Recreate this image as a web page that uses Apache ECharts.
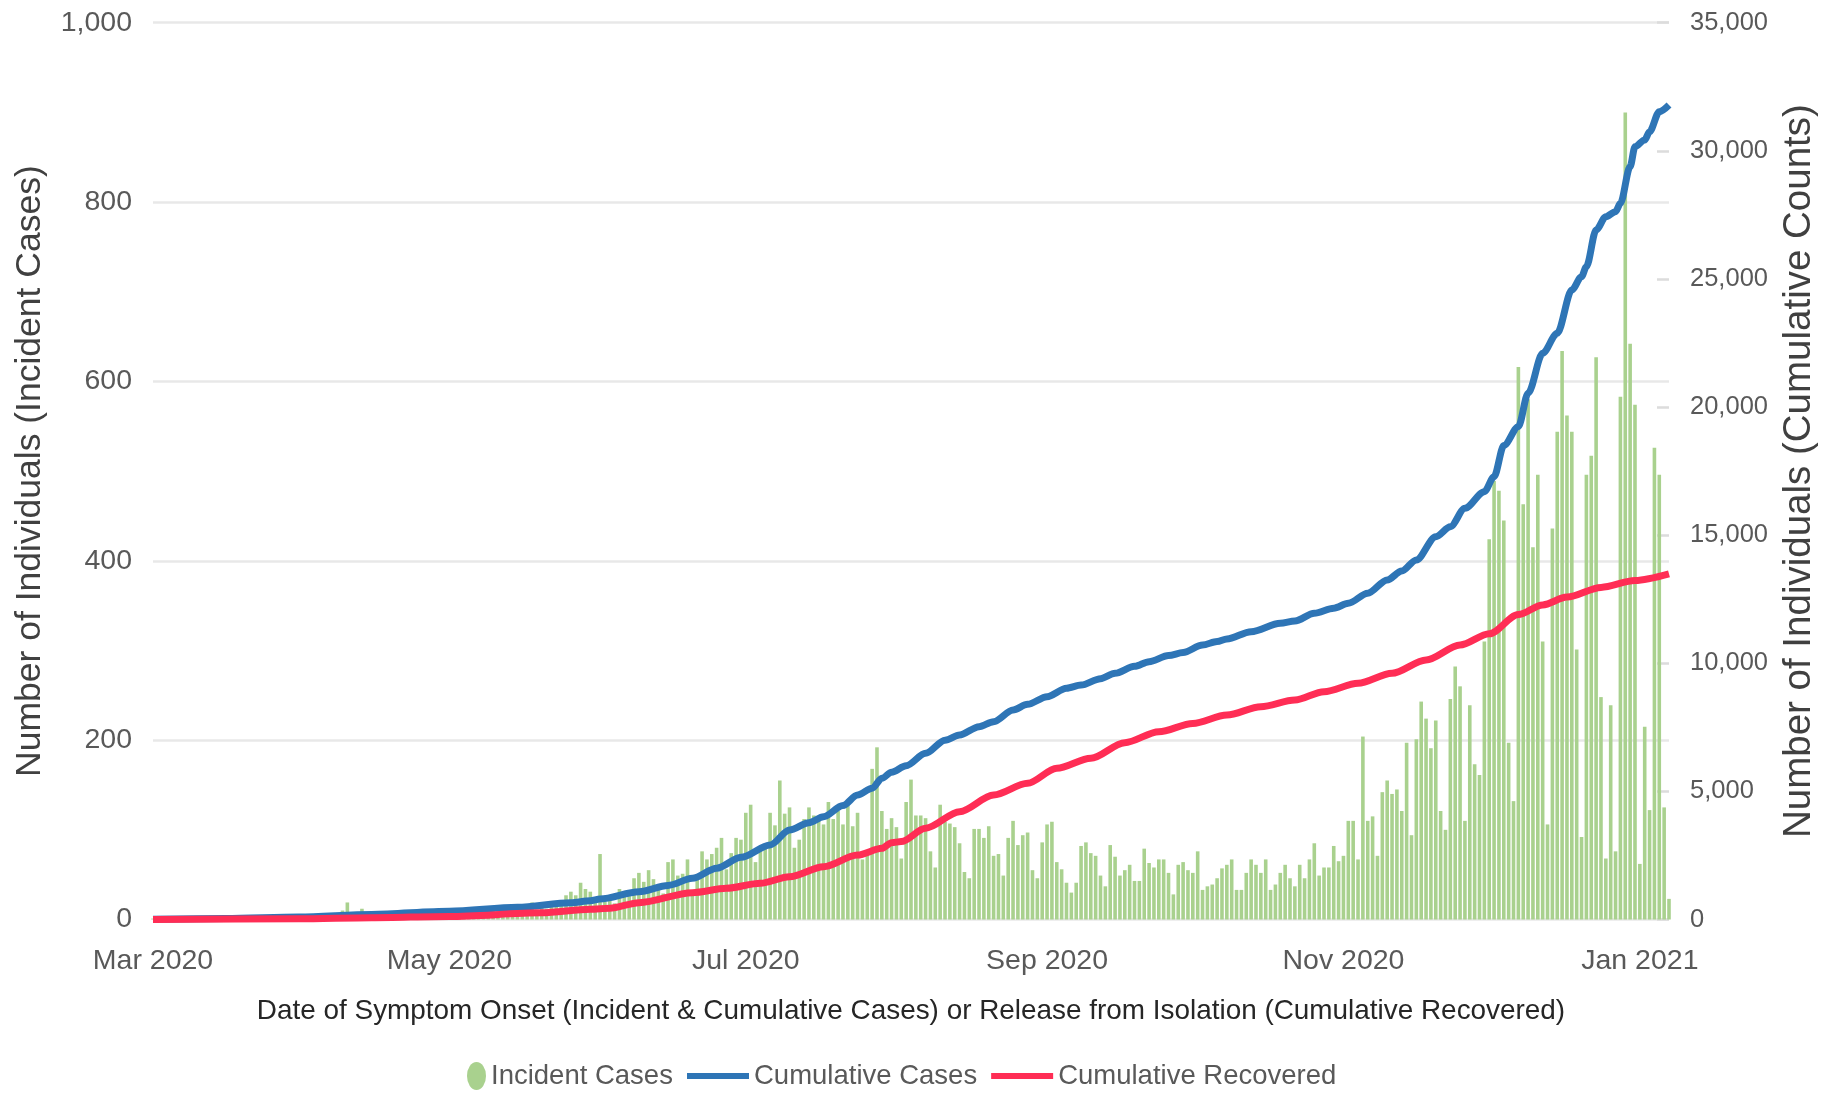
<!DOCTYPE html>
<html>
<head>
<meta charset="utf-8">
<script src="https://cdn.jsdelivr.net/npm/echarts@6/dist/echarts.min.js"></script>
<style>
html,body{margin:0;padding:0;background:#fff;}
#chart{width:1828px;height:1095px;}
</style>
</head>
<body>
<div id="chart"></div>
<script>
// ---- DATA ----
const startDate = '2020-03-01';
const dayCount = 313; // 2020-03-01 .. 2021-01-07

// Incident cases per day (from 2020-03-01)
const incidentCases = [
  1,0,1,1,2,1,2,1,2,2,
  2,3,2,3,4,5,3,3,5,4,
  3,4,3,2,4,3,5,4,3,4,
  4,3,5,4,3,4,5,6,5,10,
  19,8,6,12,5,6,4,7,5,6,
  8,5,7,6,5,8,6,7,9,6,
  8,7,9,6,10,8,9,11,7,10,
  12,9,11,10,13,9,12,14,19,11,
  13,12,15,14,17,27,31,27,41,34,
  31,25,73,20,22,18,34,25,26,46,
  52,42,55,45,35,29,64,67,49,51,
  67,31,44,76,67,73,80,91,56,74,
  91,89,119,128,64,82,83,119,105,155,
  118,125,80,89,112,125,116,110,106,131,
  112,121,106,127,104,119,67,74,168,192,
  121,101,113,103,68,131,156,116,116,113,
  76,58,128,109,107,103,85,53,46,101,
  101,91,104,71,73,49,91,110,83,94,
  97,55,46,86,106,109,64,56,41,30,
  41,82,86,74,71,49,37,83,70,49,
  55,61,43,43,79,63,58,67,67,52,
  28,61,64,55,52,76,33,37,39,46,
  57,61,67,33,33,52,67,61,52,67,
  33,39,52,61,46,37,61,46,67,85,
  49,58,58,82,65,71,110,110,67,204,
  110,115,71,142,155,140,145,121,197,94,
  201,243,224,191,222,121,100,246,282,260,
  110,239,173,161,310,424,489,478,445,197,
  132,616,463,580,415,496,310,106,436,544,
  634,562,544,301,92,496,517,627,248,68,
  239,76,583,900,642,574,62,215,122,526,
  496,125,23
];

// Cumulative cases: day index (from 2020-03-01) and value
const cumCasesDay = [0,15,30,45,61,75,86,90,92,100,106,111,116,121,127,131,135,138,142,145,148,150,152,155,159,163,166,170,173,177,180,184,188,191,195,198,202,205,209,212,216,219,221,226,232,235,239,243,246,250,254,257,260,264,267,270,274,276,278,281,283,286,289,292,294,295,297,299,301,302,304,305,307,308,310,312];
const cumCasesVal = [10,40,100,200,320,476,656,734,800,1085,1330,1607,2000,2427,2907,3493,3780,4012,4450,4859,5120,5510,5750,6000,6487,7000,7200,7525,7720,8177,8400,8696,9023,9152,9400,9609,9880,10062,10300,10420,10714,10850,10950,11233,11561,11650,11951,12150,12341,12732,13251,13600,14032,14942,15332,16049,16697,17283,18500,19234,20537,22099,22880,24570,25089,25480,26912,27431,27626,27954,29383,30163,30423,30748,31529,31790];

// Cumulative recovered: day index and value
const cumRecDay = [0,30,45,61,80,90,94,100,111,118,125,131,138,145,150,152,154,159,166,173,180,186,193,200,207,214,221,228,235,241,248,255,262,269,275,281,286,291,298,305,312];
const cumRecVal = [0,30,70,120,260,398,437,656,1046,1218,1413,1670,2061,2517,2779,3000,3040,3560,4208,4859,5316,5901,6292,6900,7330,7650,7982,8306,8567,8891,9220,9609,10128,10713,11150,11900,12279,12583,12962,13231,13489];

const leftTicks = [0,200,400,600,800,1000];
const rightTicks = [0,5000,10000,15000,20000,25000,30000,35000];
const monthNames = ['Jan','Feb','Mar','Apr','May','Jun','Jul','Aug','Sep','Oct','Nov','Dec'];
const labelMonths = ['01','03','05','07','09','11'];

// ---- BUILD ----
const categories = [];
{
  const d0 = new Date(startDate + 'T00:00:00Z');
  for (let i = 0; i < dayCount; i++) {
    const d = new Date(d0.getTime() + i * 86400000);
    categories.push(d.toISOString().slice(0, 10));
  }
}
const cumCasesData = cumCasesDay.map((d, i) => [categories[d], cumCasesVal[i]]);
const cumRecData = cumRecDay.map((d, i) => [categories[d], cumRecVal[i]]);

const FONT = "'Liberation Sans', Arial, sans-serif";
const fmt = v => v.toString().replace(/\B(?=(\d{3})+(?!\d))/g, ',');
const ICON_LINE = 'path://M0,0L62,0L62,6L0,6Z';
const ICON_DOT = 'path://M10,0A10,15 0 1,1 10,30A10,15 0 1,1 10,0Z';
const legendText = {fontFamily: FONT, fontSize: 27.5, color: '#595959'};

const chart = echarts.init(document.getElementById('chart'), null, {renderer: 'canvas'});
chart.setOption({
  backgroundColor: '#ffffff',
  animation: false,
  grid: {left: 153, right: 159, top: 22.7, bottom: 175.5, containLabel: false, outerBoundsMode: 'none'},
  legend: [
    {
      left: 462,
      top: 1057,
      itemWidth: 19,
      itemHeight: 28,
      itemGap: 14,
      symbolKeepAspect: false,
      textStyle: legendText,
      data: [{name: 'Incident Cases', icon: ICON_DOT}]
    },
    {
      left: 682,
      top: 1057,
      itemWidth: 62,
      itemHeight: 26,
      itemGap: 14,
      symbolKeepAspect: true,
      textStyle: legendText,
      data: [
        {name: 'Cumulative Cases', icon: ICON_LINE},
        {name: 'Cumulative Recovered', icon: ICON_LINE}
      ]
    }
  ],
  xAxis: {
    type: 'category',
    data: categories,
    boundaryGap: false,
    axisLine: {show: false},
    axisTick: {show: false},
    splitLine: {show: false},
    axisLabel: {
      interval: (idx, val) => val.slice(8) === '01' && labelMonths.includes(val.slice(5, 7)),
      formatter: val => monthNames[parseInt(val.slice(5, 7), 10) - 1] + ' ' + val.slice(0, 4),
      fontFamily: FONT, fontSize: 28.5, color: '#595959', margin: 24, lineHeight: 36
    },
    name: 'Date of Symptom Onset (Incident & Cumulative Cases) or Release from Isolation (Cumulative Recovered)',
    nameLocation: 'middle',
    nameGap: 73.5,
    nameTextStyle: {fontFamily: FONT, fontSize: 27.9, color: '#262626', lineHeight: 36}
  },
  yAxis: [
    {
      type: 'value',
      min: leftTicks[0], max: leftTicks[leftTicks.length - 1], interval: 200,
      axisLine: {show: false},
      axisTick: {show: false},
      splitLine: {show: true, lineStyle: {color: '#e8e8e8', width: 2.5}},
      axisLabel: {formatter: fmt, fontFamily: FONT, fontSize: 28.5, color: '#595959', margin: 21},
      name: 'Number of Individuals (Incident Cases)',
      nameLocation: 'middle',
      nameRotate: 90,
      nameGap: 102,
      nameTextStyle: {fontFamily: FONT, fontSize: 35.5, color: '#404040', lineHeight: 40}
    },
    {
      type: 'value',
      position: 'right',
      min: rightTicks[0], max: rightTicks[rightTicks.length - 1], interval: 5000,
      axisLine: {show: false},
      axisTick: {show: true, inside: true, length: 12, lineStyle: {color: '#dcdcdc', width: 2.5}},
      splitLine: {show: false},
      axisLabel: {formatter: fmt, fontFamily: FONT, fontSize: 25.5, color: '#595959', margin: 21},
      name: 'Number of Individuals (Cumulative Counts)',
      nameLocation: 'middle',
      nameRotate: 90,
      nameGap: 93,
      nameTextStyle: {fontFamily: FONT, fontSize: 38.5, color: '#404040', lineHeight: 40}
    }
  ],
  series: [
    {
      name: 'Incident Cases',
      type: 'bar',
      yAxisIndex: 0,
      data: incidentCases,
      barCategoryGap: '26%',
      itemStyle: {color: '#a9d18e'}
    },
    {
      name: 'Cumulative Cases',
      type: 'line',
      yAxisIndex: 1,
      data: cumCasesData,
      showSymbol: false,
      symbol: 'none',
      smooth: 0.3,
      smoothMonotone: 'x',
      lineStyle: {color: '#2e75b6', width: 7},
      itemStyle: {color: '#2e75b6'}
    },
    {
      name: 'Cumulative Recovered',
      type: 'line',
      yAxisIndex: 1,
      data: cumRecData,
      showSymbol: false,
      symbol: 'none',
      smooth: 0.3,
      smoothMonotone: 'x',
      lineStyle: {color: '#ff2d55', width: 7},
      itemStyle: {color: '#ff2d55'}
    }
  ]
});
</script>
</body>
</html>
